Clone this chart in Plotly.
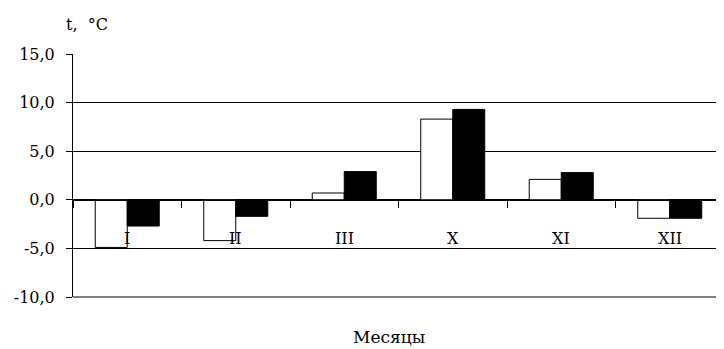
import plotly.graph_objects as go

months = ["I", "II", "III", "X", "XI", "XII"]
series_white = [-4.9, -4.2, 0.7, 8.3, 2.1, -1.9]
series_black = [-2.7, -1.7, 2.9, 9.3, 2.8, -1.9]
y_tick_vals = [-10, -5, 0, 5, 10, 15]
y_tick_text = ["-10,0", "-5,0", "0,0", "5,0", "10,0", "15,0"]
y_title = "t,&nbsp;&nbsp;°C"
x_title = "Месяцы"
label_level = -4.0

FONT = "DejaVu Serif"

fig = go.Figure()
fig.add_bar(x=months, y=series_white, name="white",
            marker=dict(color="white", line=dict(color="black", width=1)))
fig.add_bar(x=months, y=series_black, name="black",
            marker=dict(color="black", line=dict(color="black", width=1)))

for m in months:
    fig.add_annotation(x=m, y=label_level, xref="x", yref="y", text=m,
                       showarrow=False, font=dict(family=FONT, size=16, color="black"))

fig.add_annotation(x=-0.014, y=1.12, xref="paper", yref="paper", text=y_title,
                   xanchor="left", yanchor="middle", showarrow=False,
                   font=dict(family=FONT, size=16, color="black"))
fig.add_annotation(x=0.485, y=-0.212, xref="paper", yref="paper", text=x_title,
                   xanchor="center", yanchor="bottom", showarrow=False,
                   font=dict(family=FONT, size=17, color="black"))

# bottom frame line of the plot area
fig.add_shape(type="line", xref="x domain", yref="y domain", x0=0, x1=1, y0=0, y1=0,
              line=dict(color="black", width=1), layer="above")

# page body has an 8px default margin, so the figure is 8px smaller than the window
fig.update_layout(
    template="none",
    width=716, height=341,
    margin=dict(l=65, r=0, t=46, b=52, pad=0),
    paper_bgcolor="white", plot_bgcolor="white",
    barmode="group", bargap=0.41, bargroupgap=0,
    showlegend=False,
    font=dict(family=FONT, size=16, color="black"),
    xaxis=dict(type="category", range=[-0.5, 5.5], anchor="free", position=0.4,
               automargin=False,
               showline=True, linecolor="black", linewidth=1,
               ticks="outside", tickson="boundaries", ticklen=7, tickcolor="black",
               showticklabels=False, showgrid=False, zeroline=False),
    yaxis=dict(range=[-10, 15], tickvals=y_tick_vals, ticktext=y_tick_text,
               automargin=False,
               showgrid=True, gridcolor="black", gridwidth=1,
               showline=True, linecolor="black", linewidth=1,
               ticks="outside", ticklen=6, tickcolor="black",
               ticklabelstandoff=8,
               zeroline=False, tickfont=dict(family=FONT, size=16)),
)

fig.write_html("out.html")
